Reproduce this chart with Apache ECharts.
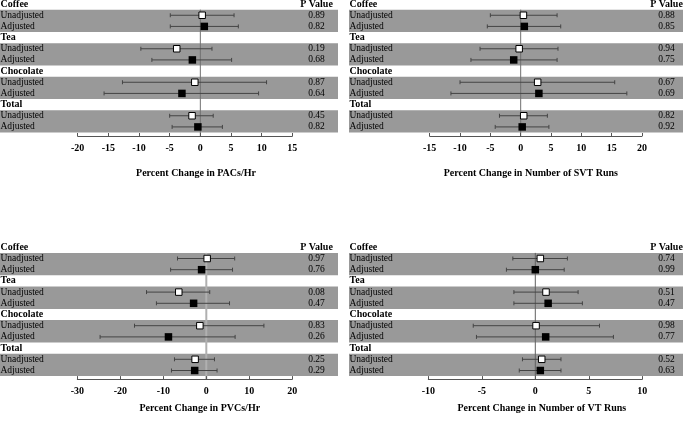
<!DOCTYPE html>
<html>
<head>
<meta charset="utf-8">
<script src="https://cdn.jsdelivr.net/npm/echarts@6/dist/echarts.min.js"></script>
<style>
  html, body {margin: 0; padding: 0; background: #fff;}
  #chart {width: 687px; height: 424px;}
</style>
</head>
<body>
<div id="chart"></div>
<script>
const groups = ['Coffee', 'Tea', 'Chocolate', 'Total'];
const kinds = ['Unadjusted', 'Adjusted'];

// order: coffee unadj, coffee adj, tea unadj, tea adj, choc unadj, choc adj, total unadj, total adj
const pacEst = [0.3, 0.65, -3.85, -1.3, -0.9, -3.0, -1.35, -0.4];
const pacLo = [-4.9, -4.9, -9.7, -7.9, -12.7, -15.7, -5.0, -4.6];
const pacHi = [5.5, 6.2, 1.9, 5.1, 10.8, 9.5, 2.1, 3.6];
const pacP = ['0.89', '0.82', '0.19', '0.68', '0.87', '0.64', '0.45', '0.82'];
const pacTicks = [-20, -15, -10, -5, 0, 5, 10, 15];

const svtEst = [0.45, 0.6, -0.25, -1.15, 2.8, 3.0, 0.5, 0.25];
const svtLo = [-5.0, -5.5, -6.7, -8.2, -10.0, -11.5, -3.5, -4.2];
const svtHi = [6.0, 6.6, 6.15, 6.0, 15.5, 17.5, 4.4, 4.65];
const svtP = ['0.88', '0.85', '0.94', '0.75', '0.67', '0.69', '0.82', '0.92'];
const svtTicks = [-15, -10, -5, 0, 5, 10, 15, 20];

const pvcEst = [0.2, -1.1, -6.4, -2.95, -1.5, -8.8, -2.6, -2.7];
const pvcLo = [-6.7, -8.3, -13.9, -11.6, -16.7, -24.7, -7.4, -8.1];
const pvcHi = [6.6, 6.1, 0.8, 5.4, 13.4, 6.7, 1.9, 2.5];
const pvcP = ['0.97', '0.76', '0.08', '0.47', '0.83', '0.26', '0.25', '0.29'];
const pvcTicks = [-30, -20, -10, 0, 10, 20];

const vtEst = [0.47, 0.0, 1.0, 1.2, 0.07, 0.97, 0.6, 0.47];
const vtLo = [-2.1, -2.7, -2.0, -2.0, -5.8, -5.5, -1.2, -1.5];
const vtHi = [3.0, 2.7, 4.0, 4.4, 6.0, 7.3, 2.4, 2.4];
const vtP = ['0.74', '0.99', '0.51', '0.47', '0.98', '0.77', '0.52', '0.63'];
const vtTicks = [-10, -5, 0, 5, 10];

const serif = "'Liberation Serif', 'Times New Roman', serif";

// one header row per group, then one row per kind
const rows = [];
groups.forEach(g => {
  rows.push(g);
  kinds.forEach(k => rows.push(k));
});
const rowKeys = rows.map((r, i) => String(i));
const rowOf = j => 3 * Math.floor(j / 2) + 1 + (j % 2);

const panels = [
  {name: 'Percent Change in PACs/Hr', est: pacEst, lo: pacLo, hi: pacHi, p: pacP, ticks: pacTicks,
    box: [0, 338], left: 77.7, width: 214.6, top: -1.5, height: 134, offset: 3.5,
    nameGap: 32, namePad: [0, 0, 0, 22], pCenter: 316.5, zeroColor: '#707070', zeroWidth: 1},
  {name: 'Percent Change in Number of SVT Runs', est: svtEst, lo: svtLo, hi: svtHi, p: svtP, ticks: svtTicks,
    box: [349, 683], left: 429.7, width: 212.3, top: -1.5, height: 134, offset: 3.5,
    nameGap: 32, namePad: [0, 10, 0, 0], pCenter: 666.5, zeroColor: '#707070', zeroWidth: 1},
  {name: 'Percent Change in PVCs/Hr', est: pvcEst, lo: pvcLo, hi: pvcHi, p: pvcP, ticks: pvcTicks,
    box: [0, 338], left: 77.3, width: 215, top: 241.7, height: 134.4, offset: 3,
    nameGap: 24, namePad: [0, 0, 0, 30], pCenter: 316.5, zeroColor: '#b0b0b0', zeroWidth: 2},
  {name: 'Percent Change in Number of VT Runs', est: vtEst, lo: vtLo, hi: vtHi, p: vtP, ticks: vtTicks,
    box: [349, 683], left: 428.3, width: 214, top: 241.7, height: 134.4, offset: 3,
    nameGap: 24, namePad: [0, 0, 0, 13], pCenter: 666.5, zeroColor: '#606060', zeroWidth: 1},
];

const textRich = {
  h: {fontFamily: serif, fontWeight: 'bold', fontSize: 10, color: '#000'},
  r: {fontFamily: serif, fontSize: 9.5, color: '#000'},
};

const grid = [];
const xAxis = [];
const yAxis = [];
const series = [];

panels.forEach((pn, i) => {
  grid.push({left: pn.left, top: pn.top, width: pn.width, height: pn.height,
    containLabel: false, outerBoundsMode: 'none'});

  xAxis.push({
    type: 'value', gridIndex: i,
    min: pn.ticks[0], max: pn.ticks[pn.ticks.length - 1], interval: pn.ticks[1] - pn.ticks[0],
    offset: pn.offset,
    axisLine: {show: true, lineStyle: {color: '#555', width: 1}},
    axisTick: {show: true, inside: true, length: 3, lineStyle: {color: '#555'}},
    splitLine: {show: false},
    axisLabel: {margin: 7, color: '#000', fontFamily: serif, fontWeight: 'bold', fontSize: 10},
    name: pn.name, nameLocation: 'middle', nameGap: pn.nameGap,
    nameTextStyle: {color: '#000', fontFamily: serif, fontWeight: 'bold', fontSize: 10, padding: pn.namePad},
  });

  // row labels on the left
  yAxis.push({
    type: 'category', gridIndex: i, data: rowKeys, inverse: true,
    axisLine: {show: false}, axisTick: {show: false}, splitLine: {show: false},
    axisLabel: {
      interval: 0, align: 'left', margin: pn.left - pn.box[0] - 0.5,
      formatter: (v) => {
        const r = +v;
        return r % 3 === 0 ? '{h|' + rows[r] + '}' : '{r|' + rows[r] + '}';
      },
      rich: textRich,
    },
  });

  // p values on the right
  yAxis.push({
    type: 'category', gridIndex: i, data: rowKeys, inverse: true, position: 'right',
    axisLine: {show: false}, axisTick: {show: false}, splitLine: {show: false},
    axisLabel: {
      interval: 0, align: 'center', margin: pn.pCenter - (pn.left + pn.width),
      formatter: (v) => {
        const r = +v;
        if (r === 0) return '{h|P Value}';
        if (r % 3 === 0) return '';
        return '{r|' + pn.p[Math.floor(r / 3) * 2 + (r % 3 - 1)] + '}';
      },
      rich: textRich,
    },
  });

  const yIdx = 2 * i;

  series.push({
    type: 'custom', xAxisIndex: i, yAxisIndex: yIdx, z: -2, silent: true,
    encode: {x: 0, y: [1, 2]},
    data: groups.map((g, gi) => [0, 3 * gi + 1, 3 * gi + 2]),
    renderItem: (params, api) => {
      const half = api.size([0, 1])[1] / 2;
      const top = api.coord([0, api.value(1)])[1] - half;
      const bot = api.coord([0, api.value(2)])[1] + half;
      return {type: 'rect', shape: {x: pn.box[0], y: top, width: pn.box[1] - pn.box[0], height: bot - top},
        style: {fill: '#999999'}};
    },
  });

  series.push({
    type: 'custom', xAxisIndex: i, yAxisIndex: yIdx, z: -1, silent: true,
    encode: {x: 0, y: 1},
    data: [[0, 1]],
    renderItem: (params, api) => {
      const half = api.size([0, 1])[1] / 2;
      const pt = api.coord([api.value(0), api.value(1)]);
      const bottom = params.coordSys.y + params.coordSys.height + pn.offset;
      return {type: 'line', shape: {x1: pt[0], y1: pt[1] - half, x2: pt[0], y2: bottom},
        style: {stroke: pn.zeroColor, lineWidth: pn.zeroWidth}};
    },
  });

  series.push({
    type: 'custom', xAxisIndex: i, yAxisIndex: yIdx, z: 3, silent: true,
    encode: {x: [0, 1], y: 2},
    data: pn.est.map((e, j) => [pn.lo[j], pn.hi[j], rowOf(j)]),
    renderItem: (params, api) => {
      const a = api.coord([api.value(0), api.value(2)]);
      const b = api.coord([api.value(1), api.value(2)]);
      const st = {stroke: '#444', lineWidth: 1};
      return {type: 'group', children: [
        {type: 'line', shape: {x1: a[0], y1: a[1], x2: b[0], y2: b[1]}, style: st},
        {type: 'line', shape: {x1: a[0], y1: a[1] - 2, x2: a[0], y2: a[1] + 2}, style: st},
        {type: 'line', shape: {x1: b[0], y1: b[1] - 2, x2: b[0], y2: b[1] + 2}, style: st},
      ]};
    },
  });

  series.push({
    type: 'scatter', xAxisIndex: i, yAxisIndex: yIdx, z: 5, silent: true,
    symbol: 'rect', symbolSize: 6.5,
    itemStyle: {color: '#fff', borderColor: '#000', borderWidth: 1, opacity: 1},
    data: pn.est.map((e, j) => [e, rowOf(j)]).filter((d, j) => j % 2 === 0),
  });

  series.push({
    type: 'scatter', xAxisIndex: i, yAxisIndex: yIdx, z: 5, silent: true,
    symbol: 'rect', symbolSize: 7.5,
    itemStyle: {color: '#000', opacity: 1},
    data: pn.est.map((e, j) => [e, rowOf(j)]).filter((d, j) => j % 2 === 1),
  });
});

const chart = echarts.init(document.getElementById('chart'));
chart.setOption({
  animation: false,
  backgroundColor: '#fff',
  grid, xAxis, yAxis, series,
});
</script>
</body>
</html>
